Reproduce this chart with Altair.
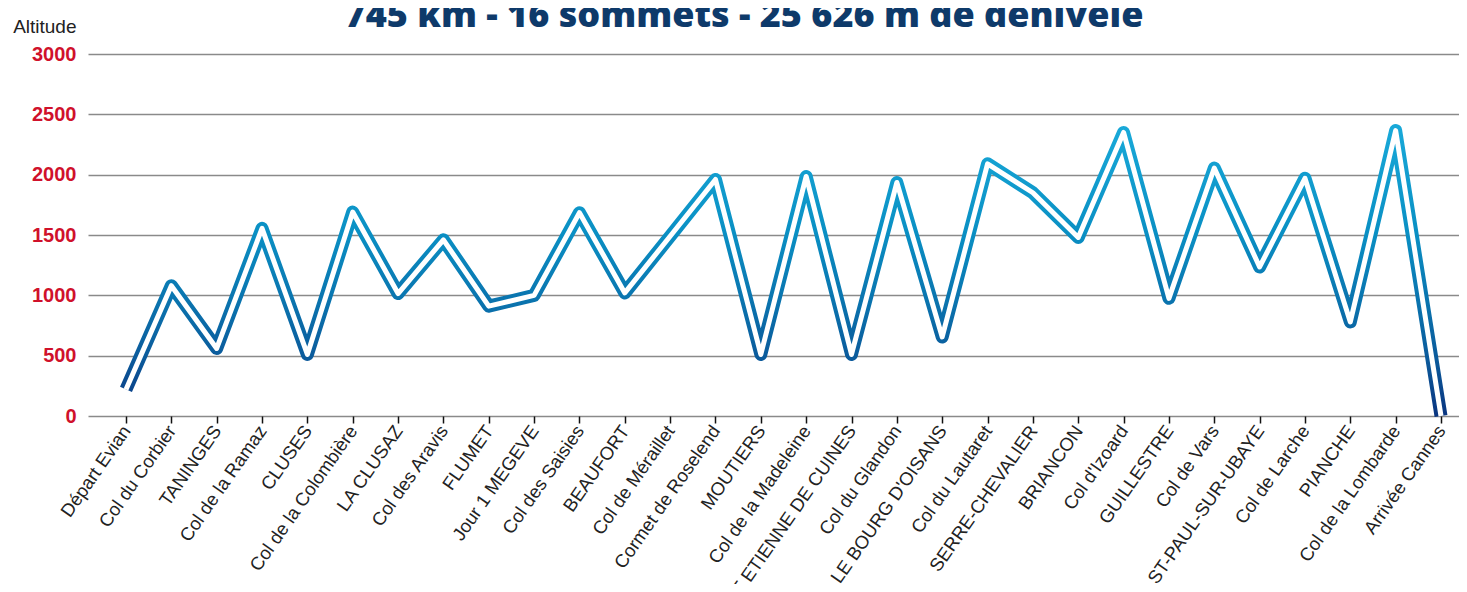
import json
import altair as alt
import pandas as pd

names = ["Départ Evian", "Col du Corbier", "TANINGES", "Col de la Ramaz", "CLUSES",
         "Col de la Colombière", "LA CLUSAZ", "Col des Aravis", "FLUMET", "Jour 1 MEGEVE",
         "Col des Saisies", "BEAUFORT", "Col de Méraillet", "Cormet de Roselend", "MOUTIERS",
         "Col de la Madeleine", "ST ETIENNE DE CUINES", "Col du Glandon", "LE BOURG D'OISANS",
         "Col du Lautaret", "SERRE-CHEVALIER", "BRIANCON", "Col d'Izoard", "GUILLESTRE",
         "Col de Vars", "ST-PAUL-SUR-UBAYE", "Col de Larche", "PIANCHE", "Col de la Lombarde",
         "Arrivée Cannes"]
altitudes = [220, 1080, 560, 1555, 510, 1690, 1015, 1460, 910, 1000,
             1685, 1020, 1490, 1960, 510, 1985, 510, 1935, 655, 2090,
             1850, 1480, 2350, 975, 2055, 1235, 1970, 780, 2365, 0]
y_ticks = [0, 500, 1000, 1500, 2000, 2500, 3000]
title_text = ["745 km - 16 sommets - 25 626 m de dénivelé"]

positions = list(range(len(names)))
df = pd.DataFrame({"lieu": names, "altitude": altitudes, "ordre": positions})
df_title = pd.DataFrame({"titre": title_text})

sans = "Liberation Sans, Arial, sans-serif"

grad = alt.Gradient(
    gradient="linear", x1=0, x2=0, y1=1, y2=0,
    stops=[
        alt.GradientStop(offset=0, color="#0a3580"),
        alt.GradientStop(offset=0.2, color="#0b5a9b"),
        alt.GradientStop(offset=0.42, color="#0a76b0"),
        alt.GradientStop(offset=0.65, color="#0a90c4"),
        alt.GradientStop(offset=1, color="#18a8d8"),
    ],
)

label_expr = json.dumps(names, ensure_ascii=False) + "[datum.value]"

x_enc = alt.X(
    "ordre:Q",
    scale=alt.Scale(domain=[-0.838, 29.397], nice=False, zero=False),
    axis=alt.Axis(
        values=positions, labelExpr=label_expr,
        title=None, domain=False, grid=False,
        ticks=True, tickColor="#111", tickSize=7, tickWidth=1.5,
        labelAngle=-55, labelAlign="right", labelBaseline="middle",
        labelFont=sans, labelFontSize=18.5, labelColor="#222",
        labelPadding=4, labelOverlap=False, labelLimit=400, labelFlush=False,
    ),
)
y_enc = alt.Y(
    "altitude:Q",
    scale=alt.Scale(domain=[0, 3000], nice=False),
    axis=alt.Axis(
        values=y_ticks, format="d", title="Altitude", titleAngle=0, titleAlign="right",
        titleBaseline="alphabetic", titleX=-12, titleY=-22,
        titleFont=sans, titleFontSize=19, titleFontWeight="normal", titleColor="#222",
        domain=False, ticks=False, grid=True, gridColor="#8a8a8a", gridWidth=1.6,
        labelFont=sans, labelFontSize=20, labelFontWeight="bold", labelColor="#d0112b",
        labelPadding=12,
    ),
)

base = alt.Chart(df).encode(x=x_enc, y=y_enc, order="ordre:Q")

outer = base.mark_line(color=grad, strokeWidth=13, strokeCap="butt", strokeJoin="round")
inner = base.mark_line(color="white", strokeWidth=5, strokeCap="butt", strokeJoin="round")

title = alt.Chart(df_title).mark_text(
    font="Open Sans", fontSize=36, fontWeight=800, color="#0e3a6a",
    align="center", baseline="alphabetic",
).encode(text="titre:N", x=alt.value(656), y=alt.value(-27))

chart = (
    alt.layer(outer, inner, title)
    .properties(
        width=1371, height=362,
        autosize=alt.AutoSizeParams(type="none"),
        padding={"left": 80, "top": 46, "right": 0, "bottom": 168},
        view=alt.ViewBackground(stroke="transparent", strokeWidth=0),
    )
    .configure_view(strokeWidth=0, stroke="transparent")
    .configure_axis(domain=False)
    .configure(background="white", style={"cell": {"stroke": "transparent", "strokeWidth": 0}})
)

chart.save("out.html", embed_options={"renderer": "svg", "actions": False})
